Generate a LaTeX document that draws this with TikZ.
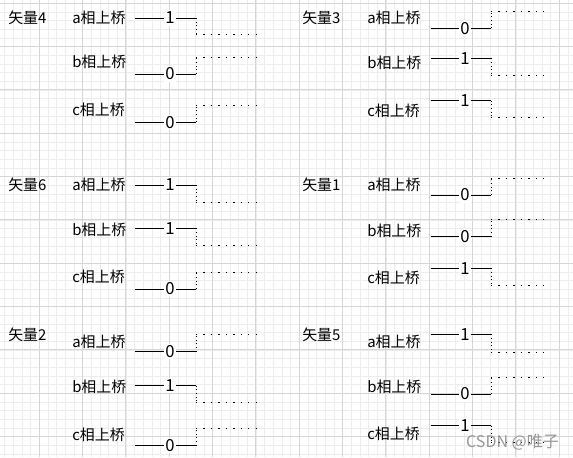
\documentclass[tikz,border=0pt]{standalone}
\usepackage{fontspec}
\setmainfont{Noto Sans CJK SC}
\begin{document}
\begin{tikzpicture}[x=0.75pt,y=-0.75pt,
  minorgrid/.style={draw=black!7,line width=0.75pt},
  majorgrid/.style={draw=black!16,line width=0.75pt},
  lbl/.style={anchor=west,inner sep=0pt,font=\fontsize{11.2}{13}\selectfont,text=black},
  digit/.style={fill=white,inner sep=1.2pt,font=\fontsize{12.5}{14}\selectfont,text=black},
  solidline/.style={draw=black,line width=0.75pt},
  vdot/.style={draw=black,line width=0.75pt,dash pattern=on 0.75pt off 2pt},
  hdot/.style={draw=black,line width=0.75pt,dash pattern=on 0.9pt off 4.7pt},
  wmark/.style={anchor=center,inner sep=0pt,font=\fontsize{12}{14}\selectfont,text=black!45,opacity=0.9}]
\useasboundingbox (0,0) rectangle (573,457);
\fill[white] (0,0) rectangle (573,457);
% grid
\begin{scope}
\clip (0,0) rectangle (573,457);
\foreach \i in {0,...,66} {\draw[minorgrid] ({4.667+8.667*\i},0) -- ({4.667+8.667*\i},457);}
\foreach \i in {0,...,52} {\draw[minorgrid] (0,{3.333+8.667*\i}) -- (573,{3.333+8.667*\i});}
\foreach \i in {0,...,13} {\draw[majorgrid] ({39.33+43.33*\i-43.33},0) -- ({39.33+43.33*\i-43.33},457);}
\foreach \i in {0,...,10} {\draw[majorgrid] (0,{3.333+43.33*\i}) -- (573,{3.333+43.33*\i});}
\end{scope}
\newcommand\mywave[8]{%
  \coordinate (#1s) at (#2,#6);
  \coordinate (#1e) at (#4,#6);
  \coordinate (#1t) at (#4,#7);
  \coordinate (#1f) at (#5,#7);
  \draw[solidline] (#1s) -- (#1e);
  \node[digit] (#1d) at (#3,#6) {#8};
  \draw[vdot] (#1e) -- (#1t);
  \draw[hdot] (#1t) -- (#1f);
}
% ---------- panel vector 4 ----------
\node[lbl] (t4) at (8,18) {矢量4};
\node[lbl] (t4a) at (72,18) {a相上桥};
\node[lbl] (t4b) at (72,62.3) {b相上桥};
\node[lbl] (t4c) at (72,110) {c相上桥};
\mywave{w4a}{135}{170}{196}{256}{18}{34.7}{1}
\mywave{w4b}{135}{170}{196}{256}{74}{57.3}{0}
\mywave{w4c}{135}{170}{196}{256}{122.3}{105.3}{0}
% ---------- panel vector 3 ----------
\node[lbl] (t3) at (302,18) {矢量3};
\node[lbl] (t3a) at (367,18.3) {a相上桥};
\node[lbl] (t3b) at (367,63) {b相上桥};
\node[lbl] (t3c) at (367,111) {c相上桥};
\mywave{w3a}{430.7}{465}{491}{549}{28.3}{11.7}{0}
\mywave{w3b}{430.7}{465}{491}{549}{58.3}{75}{1}
\mywave{w3c}{430.7}{465}{491}{549}{100.7}{117.7}{1}
% ---------- panel vector 6 ----------
\node[lbl] (t6) at (8,185) {矢量6};
\node[lbl] (t6a) at (72,185) {a相上桥};
\node[lbl] (t6b) at (72,230) {b相上桥};
\node[lbl] (t6c) at (72,277.3) {c相上桥};
\mywave{w6a}{135}{170}{196}{256}{185}{202.3}{1}
\mywave{w6b}{135}{170}{196}{256}{228.3}{245.7}{1}
\mywave{w6c}{135}{170}{196}{256}{289}{272.3}{0}
% ---------- panel vector 1 ----------
\node[lbl] (t1) at (302,185) {矢量1};
\node[lbl] (t1a) at (367,185) {a相上桥};
\node[lbl] (t1b) at (367,230.7) {b相上桥};
\node[lbl] (t1c) at (367,278.3) {c相上桥};
\mywave{w1a}{430.7}{465}{491}{549}{195}{178.3}{0}
\mywave{w1b}{430.7}{465}{491}{549}{236.7}{219.3}{0}
\mywave{w1c}{430.7}{465}{491}{549}{268.3}{285.7}{1}
% ---------- panel vector 2 ----------
\node[lbl] (t2) at (8,335) {矢量2};
\node[lbl] (t2a) at (72,342.3) {a相上桥};
\node[lbl] (t2b) at (72,387.3) {b相上桥};
\node[lbl] (t2c) at (72,435) {c相上桥};
\mywave{w2a}{135}{170}{196}{256}{351.7}{334.3}{0}
\mywave{w2b}{135}{170}{196}{256}{385.7}{402.3}{1}
\mywave{w2c}{135}{170}{196}{256}{445.7}{428.3}{0}
% ---------- panel vector 5 ----------
\node[lbl] (t5) at (302,335) {矢量5};
\node[lbl] (t5a) at (367,342.3) {a相上桥};
\node[lbl] (t5b) at (367,386.7) {b相上桥};
\node[lbl] (t5c) at (367,434.3) {c相上桥};
\mywave{w5a}{430.7}{465}{491}{549}{334.3}{352.3}{1}
\mywave{w5b}{430.7}{465}{491}{549}{394}{377.7}{0}
\mywave{w5c}{430.7}{465}{491}{549}{425.7}{442.7}{1}
% watermark
\node[wmark] (wm) at (512.5,441.7) {CSDN @唯子};
\end{tikzpicture}
\end{document}
